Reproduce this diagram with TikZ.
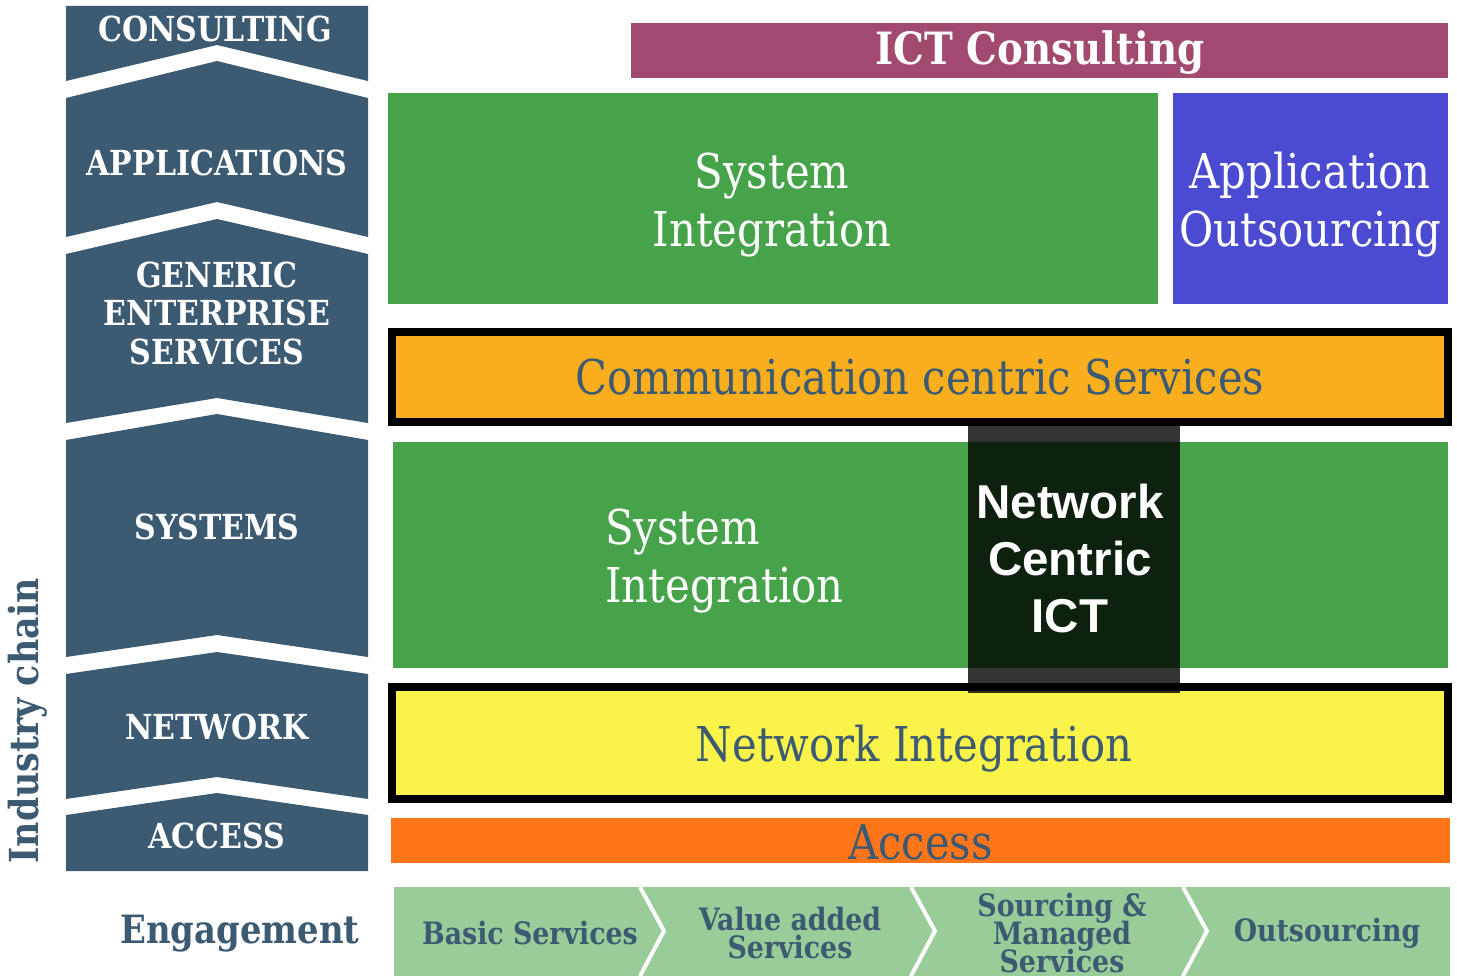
\documentclass[tikz,border=0pt]{standalone}
\usepackage{fontspec}
\setmainfont[FakeStretch=0.87]{DejaVu Serif}
\newfontfamily\sansbold{Liberation Sans}
\newcommand\myfs[2]{\fontsize{#1}{#2}\selectfont}
\newcommand\tightlines{\lineskiplimit=-30pt\relax}
\definecolor{slate}{HTML}{3C5A72}
\definecolor{mauve}{HTML}{A2496F}
\definecolor{sigreen}{HTML}{46A34A}
\definecolor{aoblue}{HTML}{4B4BD1}
\definecolor{ccorange}{HTML}{F9AE1D}
\definecolor{niyellow}{HTML}{FAF34A}
\definecolor{accorange}{HTML}{FF751A}
\definecolor{lightgreen}{HTML}{99CC99}
\tikzset{
  chevband/.style={fill=slate},
  chevtxt/.style={text=white, font=\bfseries\myfs{34.5}{38.5}, align=center, inner sep=0pt},
  regtxt/.style={font=\myfs{48}{58}, inner sep=0pt},
  blockbox/.style={inner sep=0pt},
  bordered/.style={draw=black, line width=8pt, inner sep=0pt},
  engtxt/.style={text=slate, font=\bfseries\myfs{30.8}{28}\tightlines, align=center, inner sep=0pt},
  sepline/.style={draw=white, line width=4pt}
}
\begin{document}
\begin{tikzpicture}[x=1pt,y=-1pt]
\useasboundingbox (0,0) rectangle (1457,976);
% left chevron column
\path[chevband] (66,6) -- (368,6) -- (368,81) -- (217,45) -- (66,81) -- cycle;
\path[chevband] (66,98) -- (217,61) -- (368,98) -- (368,237) -- (217,202) -- (66,237) -- cycle;
\path[chevband] (66,254) -- (217,219) -- (368,254) -- (368,423) -- (217,398) -- (66,423) -- cycle;
\path[chevband] (66,440) -- (217,414) -- (368,440) -- (368,657) -- (217,635) -- (66,657) -- cycle;
\path[chevband] (66,674) -- (217,652) -- (368,674) -- (368,799) -- (217,777) -- (66,799) -- cycle;
\path[chevband] (66,815) -- (217,793) -- (368,815) -- (368,871) -- (66,871) -- cycle;
\node[chevtxt] (lconsult) at (215,29) {CONSULTING};
\node[chevtxt] (lapps) at (217,163) {APPLICATIONS};
\node[chevtxt] (lgen) at (217,313) {GENERIC\\ENTERPRISE\\SERVICES};
\node[chevtxt] (lsys) at (217,527) {SYSTEMS};
\node[chevtxt] (lnet) at (217,727) {NETWORK};
\node[chevtxt] (lacc) at (217,836) {ACCESS};
\node[text=slate, font=\bfseries\myfs{40}{44}, rotate=90, inner sep=0pt] (industry) at (28,721) {Industry chain};
\node[text=slate, font=\bfseries\myfs{39}{44}, inner sep=0pt] (engage) at (240,934) {Engagement};
% right side blocks
\node[blockbox, fill=mauve, minimum width=817pt, minimum height=55pt] (ictc) at (1039.5,50.5) {};
\node[text=white, font=\bfseries\myfs{44.5}{48}, inner sep=0pt] (ictct) at (1040,53) {ICT Consulting};
\node[blockbox, fill=sigreen, minimum width=770pt, minimum height=211pt] (si1) at (773,198.5) {};
\node[text=white, regtxt, align=center] (si1t) at (772,205) {System\\Integration};
\node[blockbox, fill=aoblue, minimum width=275pt, minimum height=211pt] (ao) at (1310.5,198.5) {};
\node[text=white, regtxt, align=center] (aot) at (1310,205) {Application\\Outsourcing};
\node[bordered, fill=ccorange, minimum width=1056pt, minimum height=90pt] (ccs) at (920,377) {};
\node[text=slate, regtxt] (ccst) at (920,377) {Communication centric Services};
\node[blockbox, fill=sigreen, minimum width=1055pt, minimum height=226pt] (si2) at (920.5,555) {};
\node[text=white, regtxt, align=left, anchor=west] (si2t) at (605,561) {System\\Integration};
\node[bordered, fill=niyellow, minimum width=1056pt, minimum height=112pt] (ni) at (920,743) {};
\node[text=slate, regtxt] (nit) at (914,749) {Network Integration};
\node[fill=black, fill opacity=0.8, minimum width=212pt, minimum height=267pt, inner sep=0pt] (nci) at (1074,559.5) {};
\node[text=white, font=\sansbold\bfseries\myfs{47.5}{57}, align=center, inner sep=0pt] (ncit) at (1070,559) {Network\\Centric\\ICT};
\node[blockbox, fill=accorange, minimum width=1059pt, minimum height=45pt] (acc) at (920.5,840.5) {};
\node[text=slate, regtxt] (acct) at (920.5,842.5) {Access};
% engagement row
\path[fill=lightgreen] (394,887) rectangle (1450,976);
\coordinate (s1t) at (640,887); \coordinate (s1m) at (664,931); \coordinate (s1b) at (640,976);
\coordinate (s2t) at (911,887); \coordinate (s2m) at (935,931); \coordinate (s2b) at (911,976);
\coordinate (s3t) at (1183,887); \coordinate (s3m) at (1207,931); \coordinate (s3b) at (1183,976);
\draw[sepline] (s1t) -- (s1m) -- (s1b);
\draw[sepline] (s2t) -- (s2m) -- (s2b);
\draw[sepline] (s3t) -- (s3m) -- (s3b);
\node[engtxt] (basic) at (530,933) {Basic Services};
\node[engtxt] (vas) at (790,933) {Value added\\Services};
\node[engtxt] (smsv) at (1062,933) {Sourcing \&\\Managed\\Services};
\node[engtxt] (outs) at (1327,933) {Outsourcing};
\end{tikzpicture}
\end{document}
